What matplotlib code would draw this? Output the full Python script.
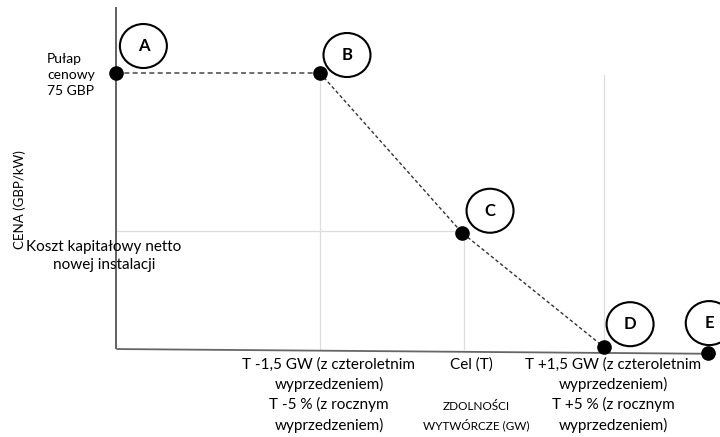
import matplotlib
matplotlib.use("Agg")
import matplotlib.pyplot as plt
from matplotlib.patches import Ellipse
from matplotlib.transforms import IdentityTransform

plt.rcParams['font.family'] = ['Lato', 'DejaVu Sans']

# ---- data (capacity relative to target T in GW, price in GBP/kW) ----
point_labels = ["A", "B", "C", "D", "E"]
capacity_gw = [-3.65, -1.5, 0.0, 1.5, 2.6]
price_gbp = [75.0, 75.0, 31.6, 0.5, -1.1]
price_cap = 75.0
net_cone = 31.6

x_tick_labels = [
    "T -1,5 GW (z czteroletnim\nwyprzedzeniem)\nT -5 % (z rocznym\nwyprzedzeniem)",
    "Cel (T)",
    "T +1,5 GW (z czteroletnim\nwyprzedzeniem)\nT +5 % (z rocznym\nwyprzedzeniem)",
]
x_tick_positions = [-1.5, 0.0, 1.5]

W, H, DPI = 720, 437, 100
fig = plt.figure(figsize=(W / DPI, H / DPI), dpi=DPI)
ax = fig.add_axes([0, 0, 1, 1])
ax.set_xlim(-4.879, 2.724)
ax.set_ylim(-23.9, 94.84)
ax.axis("off")

def P(px, py):
    """pixel position (from top-left) -> axes fraction"""
    return px / W, 1 - py / H

x0 = capacity_gw[0]
# axes lines
ax.plot([x0, x0], [0, 92.9], color="#555555", lw=1.3, solid_capstyle="butt")
ax.plot([x0, 2.68], [0, -1.3], color="#666666", lw=1.3, solid_capstyle="butt")

# light guide lines
grid_kw = dict(color="#dddddd", lw=0.9, zorder=1)
ax.plot([capacity_gw[1]] * 2, [price_gbp[1], 0], **grid_kw)
ax.plot([capacity_gw[2] + 0.02] * 2, [price_gbp[2], 0], **grid_kw)
ax.plot([capacity_gw[3]] * 2, [price_cap - 0.5, 0.4], **grid_kw)
ax.plot([x0, capacity_gw[2]], [net_cone + 0.4, net_cone + 0.4], **grid_kw)

# demand curve (dashed)
ax.plot(capacity_gw[:2], price_gbp[:2], color="#555555", lw=1.2,
        linestyle=(0, (3, 2)), zorder=2)
ax.plot(capacity_gw[1:4], price_gbp[1:4], color="#333333", lw=1.0,
        linestyle=(0, (2.5, 1.8)), zorder=2)

# points
ax.plot(capacity_gw, price_gbp, "o", color="black", ms=9.5, zorder=4)

# letter circles
offsets = [(27, -27), (27, -18), (28, -22), (26, -23), (1, -30)]
for lab, cx, cy, (dx, dy) in zip(point_labels, capacity_gw, price_gbp, offsets):
    X, Y = ax.transData.transform((cx, cy))
    cxp, cyp = X + dx, Y - dy
    e = Ellipse((cxp, cyp), 47, 44, transform=IdentityTransform(),
                facecolor="white", edgecolor="black", lw=1.5, zorder=5)
    ax.add_patch(e)
    ax.text(cxp, cyp, lab, transform=IdentityTransform(), ha="center",
            va="center", fontsize=12, fontweight="bold", zorder=6)

# x tick labels
for lbl, xp in zip(x_tick_labels, x_tick_positions):
    X, _ = ax.transData.transform((xp, 0))
    ax.text(X + 9, H - 357, lbl, transform=IdentityTransform(), ha="center",
            va="top", fontsize=11, linespacing=1.45)

# x-axis title
ax.text(*P(476, 407), "ZDOLNOŚCI", transform=ax.transAxes, ha="center",
        va="center", fontsize=8.5)
ax.text(*P(476, 425), "WYTWÓRCZE (GW)", transform=ax.transAxes, ha="center",
        va="center", fontsize=8.5)

# y-axis title
ax.text(*P(20, 200), "CENA (GBP/kW)", transform=ax.transAxes, ha="center",
        va="center", rotation=90, fontsize=9.5)

# y labels
ax.text(*P(47, 53), "Pułap\ncenowy\n75 GBP", transform=ax.transAxes,
        ha="left", va="top", fontsize=10, linespacing=1.4)
ax.text(*P(104, 256), "Koszt kapitałowy netto\nnowej instalacji",
        transform=ax.transAxes, ha="center", va="center", fontsize=11,
        linespacing=1.45)

fig.savefig("out.png", dpi=DPI)
